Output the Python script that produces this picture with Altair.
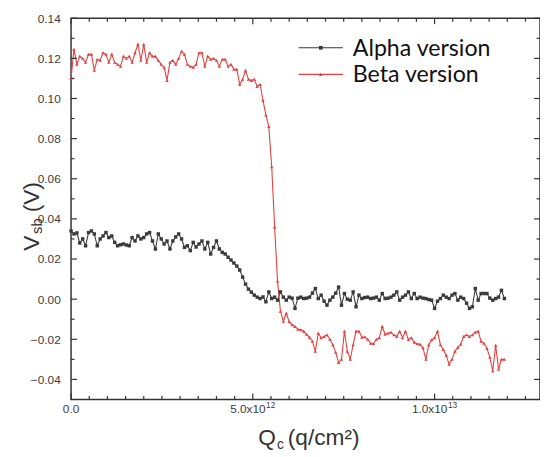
import altair as alt
import pandas as pd

# ---------------- data ----------------
q_step = 8e10  # sweep step of Qc (q/cm^2)
n_pts = 150
q_vals = [i * q_step for i in range(n_pts)]

alpha_v = [
    0.034, 0.0325, 0.033, 0.028, 0.030, 0.0266, 0.0332, 0.034, 0.0325, 0.0266,
    0.030, 0.0315, 0.0332, 0.0307, 0.0315, 0.0283, 0.0266, 0.0271, 0.0275, 0.027,
    0.0266, 0.0307, 0.029, 0.0315, 0.030, 0.0307, 0.0325, 0.0332, 0.029, 0.025,
    0.0325, 0.030, 0.0275, 0.029, 0.025, 0.029, 0.031, 0.0325, 0.030, 0.0258,
    0.0266, 0.0242, 0.0283, 0.026, 0.0275, 0.029, 0.025, 0.0283, 0.0225, 0.0258,
    0.029, 0.025, 0.0233, 0.0225, 0.0209, 0.0195, 0.018, 0.0165, 0.0145, 0.011,
    0.0075, 0.005, 0.0035, 0.002, 0.001, 0.0003, 0.0011, -0.0013, 0.0036, 0.0003,
    0.001, -0.0005, 0.0036, 0.001, -0.0005, 0.001, 0.0005, -0.0046, 0.0005, 0.001,
    0.0003, 0.0005, 0.001, 0.003, 0.0053, 0.0003, 0.002, -0.001, -0.003, -0.0005,
    0.001, 0.003, 0.006, -0.003, 0.0028, 0.0, -0.0005, 0.0036, -0.0038, 0.002,
    0.0003, 0.0008, 0.001, 0.0003, 0.0005, 0.001, -0.0005, 0.0028, 0.0003, 0.0005,
    0.001, 0.002, 0.0036, -0.0005, 0.001, 0.002, 0.0036, 0.0003, 0.0028, 0.0003,
    0.001, 0.0005, 0.0003, -0.0002, -0.0005, -0.0046, -0.001, 0.0003, 0.002, 0.001,
    0.0003, 0.002, 0.0028, -0.0005, 0.001, 0.0003, -0.002, -0.0046, -0.0038, 0.0053,
    -0.0005, 0.0028, 0.0028, 0.0028, 0.0005, -0.0005, 0.0003, 0.001, 0.0044, 0.0003,
]

beta_v = [
    0.110, 0.1245, 0.117, 0.121, 0.120, 0.118, 0.122, 0.122, 0.114, 0.1195,
    0.119, 0.1228, 0.122, 0.118, 0.122, 0.118, 0.117, 0.116, 0.121, 0.120,
    0.121, 0.118, 0.1228, 0.127, 0.119, 0.127, 0.118, 0.1228, 0.121, 0.121,
    0.119, 0.117, 0.1155, 0.109, 0.118, 0.119, 0.117, 0.120, 0.1236, 0.122,
    0.117, 0.116, 0.1155, 0.117, 0.1228, 0.1228, 0.116, 0.121, 0.1195, 0.120,
    0.119, 0.116, 0.1195, 0.1195, 0.116, 0.117, 0.1145, 0.1145, 0.107, 0.1096,
    0.114, 0.1096, 0.109, 0.1096, 0.106, 0.107, 0.099, 0.0917, 0.086, 0.066,
    0.036, 0.009, -0.006, -0.011, -0.007, -0.0112, -0.0128, -0.0136, -0.015, -0.0153,
    -0.016, -0.0175, -0.019, -0.021, -0.026, -0.017, -0.0192, -0.0186, -0.0178, -0.020,
    -0.0227, -0.0265, -0.0316, -0.030, -0.016, -0.026, -0.030, -0.0227, -0.016, -0.016,
    -0.019, -0.0188, -0.020, -0.022, -0.0222, -0.020, -0.0192, -0.0136, -0.0175, -0.017,
    -0.0165, -0.0178, -0.0186, -0.016, -0.0192, -0.016, -0.0202, -0.0192, -0.0215, -0.0222,
    -0.0225, -0.0242, -0.030, -0.0227, -0.0202, -0.0192, -0.016, -0.0227, -0.0251, -0.028,
    -0.0325, -0.030, -0.026, -0.024, -0.0225, -0.0186, -0.0178, -0.0186, -0.0178, -0.0165,
    -0.016, -0.021, -0.022, -0.0245, -0.029, -0.0358, -0.023, -0.035, -0.030, -0.030,
]

series_names = ["Alpha version", "Beta version"]
series_colors = ["#3a3a3a", "#e5403f"]
series_shapes = ["square", "triangle-up"]

x_major = [0.0, 5e12, 1e13]
x_label_base = ["0.0", "5.0x10", "1.0x10"]
x_label_exp = ["", "12", "13"]
x_minor = [k * 5e11 for k in range(1, 26) if k % 10 != 0]
y_major = [-0.04, -0.02, 0.0, 0.02, 0.04, 0.06, 0.08, 0.10, 0.12, 0.14]
y_minor = [-0.03, -0.01, 0.01, 0.03, 0.05, 0.07, 0.09, 0.11, 0.13]

x_title_parts = ["Q", "c", "(q/cm²)"]
y_title_parts = ["V", "sb", "(V)"]

# ---------------- layout ----------------
W, H = 476, 387
FRAME = "#333333"
LABEL_FONT = "Liberation Sans"
LABEL_COLOR = "#3d3d3d"

df = pd.DataFrame({
    "q": q_vals + q_vals,
    "v": alpha_v + beta_v,
    "series": [series_names[0]] * n_pts + [series_names[1]] * n_pts,
})

xs = alt.Scale(domain=[0, 1.29e13], nice=False, zero=False)
ys = alt.Scale(domain=[-0.05, 0.14], nice=False, zero=False)

x_axis = alt.Axis(values=x_major, ticks=False, domain=False, grid=False, title=None, labels=False)
y_axis = alt.Axis(
    values=y_major, ticks=False, domain=False, grid=False, title=None, format=".2f",
    labelFont=LABEL_FONT, labelFontSize=12, labelColor=LABEL_COLOR, labelPadding=11,
)

color = alt.Color("series:N", scale=alt.Scale(domain=series_names, range=series_colors), legend=None)
shape = alt.Shape("series:N", scale=alt.Scale(domain=series_names, range=series_shapes), legend=None)

lines = alt.Chart(df).mark_line(strokeWidth=1.1).encode(
    x=alt.X("q:Q", scale=xs, axis=x_axis),
    y=alt.Y("v:Q", scale=ys, axis=y_axis),
    color=color,
)
points = alt.Chart(df).mark_point(filled=True, size=12, opacity=1).encode(
    x=alt.X("q:Q", scale=xs, axis=x_axis),
    y=alt.Y("v:Q", scale=ys, axis=y_axis),
    color=color,
    shape=shape,
)

# inward ticks on all four sides
def yticks(vals, length, right):
    d = pd.DataFrame({"q": [0.0] * len(vals), "v": vals})
    x0 = W if right else 0
    x1 = W - length if right else length
    return alt.Chart(d).mark_rule(color=FRAME, strokeWidth=1.2).encode(
        y=alt.Y("v:Q", scale=ys, axis=y_axis), x=alt.value(x0), x2=alt.value(x1))

def xticks(vals, length, top):
    d = pd.DataFrame({"q": vals, "v": [0.0] * len(vals)})
    y0 = 0 if top else H
    y1 = length if top else H - length
    return alt.Chart(d).mark_rule(color=FRAME, strokeWidth=1.2).encode(
        x=alt.X("q:Q", scale=xs, axis=x_axis), y=alt.value(y0), y2=alt.value(y1))

tick_layers = [
    yticks(y_major, 6, False), yticks(y_minor, 3.5, False),
    yticks(y_major, 6, True), yticks(y_minor, 3.5, True),
    xticks(x_major, 6, False), xticks(x_minor, 3.5, False),
    xticks(x_major, 6, True), xticks(x_minor, 3.5, True),
]

# x tick labels with real superscripts
xl = pd.DataFrame({"q": x_major, "base": x_label_base, "exp": x_label_exp})
xl0 = xl[xl["exp"] == ""]
xle = xl[xl["exp"] != ""]
xlabel_layers = [
    alt.Chart(xl0).mark_text(align="center", baseline="alphabetic", font=LABEL_FONT,
                             fontSize=12, color=LABEL_COLOR).encode(
        x=alt.X("q:Q", scale=xs, axis=x_axis), y=alt.value(H + 14), text="base:N"),
    alt.Chart(xle).mark_text(align="right", baseline="alphabetic", font=LABEL_FONT,
                             fontSize=12, color=LABEL_COLOR, dx=13).encode(
        x=alt.X("q:Q", scale=xs, axis=x_axis), y=alt.value(H + 14), text="base:N"),
    alt.Chart(xle).mark_text(align="left", baseline="alphabetic", font=LABEL_FONT,
                             fontSize=8.5, color=LABEL_COLOR, dx=13.5).encode(
        x=alt.X("q:Q", scale=xs, axis=x_axis), y=alt.value(H + 9), text="exp:N"),
]

# legend (manual, Origin style)
legend_layers = []
row_y = [30, 57]
for i, name in enumerate(series_names):
    d = pd.DataFrame({"series": [name]})
    legend_layers.append(alt.Chart(d).mark_rule(color=series_colors[i], strokeWidth=1.2).encode(
        x=alt.value(231), x2=alt.value(276), y=alt.value(row_y[i])))
    legend_layers.append(alt.Chart(d).mark_point(filled=True, size=14, opacity=1,
                                                 shape=series_shapes[i], color=series_colors[i]).encode(
        x=alt.value(253.5), y=alt.value(row_y[i])))
    legend_layers.append(alt.Chart(d).mark_text(align="left", baseline="middle", font="Lato",
                                                fontSize=23.5, color="#111111").encode(
        text="series:N", x=alt.value(286), y=alt.value(row_y[i] + 1)))

# axis titles with sub/superscripts
def txt(s, x, y, size, angle=0):
    d = pd.DataFrame({"s": [s]})
    return alt.Chart(d).mark_text(align="left", baseline="alphabetic", font=LABEL_FONT,
                                  fontSize=size, color="#333333", angle=angle).encode(
        text="s:N", x=alt.value(x), y=alt.value(y))

title_layers = [
    txt(x_title_parts[0], 190, 433, 23),
    txt(x_title_parts[1], 209, 437, 14),
    txt(x_title_parts[2], 220, 433, 23),
    txt(y_title_parts[0], -33, 236, 23, 270),
    txt(y_title_parts[1], -29, 219, 15, 270),
    txt(y_title_parts[2], -33, 197, 23, 270),
]

chart = alt.layer(lines, points, *tick_layers, *xlabel_layers, *legend_layers, *title_layers).properties(
    width=W, height=H,
    autosize=alt.AutoSizeParams(type="none"),
    padding={"left": 64, "top": 7, "right": 0, "bottom": 55},
).configure_view(stroke=FRAME, strokeWidth=1.5)

chart.save("out.html", embed_options={"renderer": "svg", "actions": False})
